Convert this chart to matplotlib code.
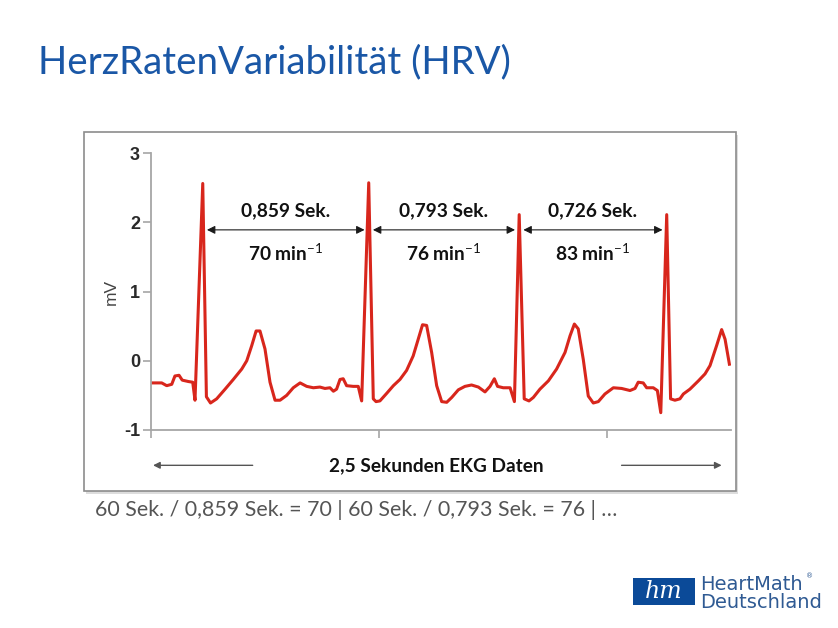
import matplotlib
matplotlib.use("Agg")
import matplotlib.pyplot as plt
from matplotlib.patches import Rectangle

# EKG trace (seconds, mV)
ekg_t = [0.003, 0.047, 0.069, 0.091, 0.105, 0.123, 0.137, 0.164, 0.183, 0.193,
         0.227, 0.243, 0.261, 0.288, 0.325, 0.361, 0.398, 0.420, 0.442, 0.461,
         0.478, 0.500, 0.522, 0.544, 0.566, 0.595, 0.624, 0.654, 0.683, 0.712,
         0.741, 0.763, 0.785, 0.800, 0.814, 0.829, 0.843, 0.858, 0.887, 0.909,
         0.924, 0.955, 0.975, 0.987, 1.004, 1.034, 1.063, 1.092, 1.121, 1.150,
         1.172, 1.191, 1.209, 1.231, 1.253, 1.275, 1.297, 1.319, 1.348, 1.377,
         1.406, 1.436, 1.465, 1.487, 1.506, 1.520, 1.545, 1.575, 1.594, 1.615,
         1.637, 1.658, 1.677, 1.706, 1.743, 1.779, 1.816, 1.838, 1.857, 1.874,
         1.896, 1.918, 1.940, 1.962, 1.991, 2.028, 2.064, 2.101, 2.123, 2.137,
         2.159, 2.174, 2.203, 2.221, 2.236, 2.262, 2.279, 2.298, 2.320, 2.335,
         2.364, 2.401, 2.430, 2.452, 2.481, 2.503, 2.518, 2.537]
ekg_mv = [-0.32, -0.32, -0.36, -0.34, -0.22, -0.21, -0.28, -0.30, -0.31, -0.57,
          2.56, -0.52, -0.61, -0.55, -0.41, -0.27, -0.12, 0.00, 0.22, 0.43,
          0.43, 0.17, -0.31, -0.57, -0.57, -0.50, -0.39, -0.32, -0.37, -0.39,
          -0.38, -0.40, -0.39, -0.44, -0.41, -0.27, -0.26, -0.36, -0.37, -0.37,
          -0.58, 2.57, -0.55, -0.59, -0.58, -0.47, -0.36, -0.27, -0.14, 0.07,
          0.31, 0.52, 0.51, 0.12, -0.36, -0.59, -0.60, -0.53, -0.42, -0.37,
          -0.35, -0.38, -0.45, -0.37, -0.26, -0.37, -0.39, -0.39, -0.59, 2.11,
          -0.55, -0.58, -0.53, -0.41, -0.29, -0.12, 0.12, 0.36, 0.53, 0.46,
          0.02, -0.51, -0.61, -0.59, -0.48, -0.39, -0.40, -0.43, -0.40, -0.31,
          -0.32, -0.39, -0.39, -0.43, -0.75, 2.11, -0.55, -0.57, -0.55, -0.48,
          -0.41, -0.29, -0.19, -0.07, 0.22, 0.45, 0.31, -0.05]

r_peaks = [0.227, 0.955, 1.615, 2.262]
rr_labels = ["0,859 Sek.", "0,793 Sek.", "0,726 Sek."]
bpm_labels = ["70", "76", "83"]
y_ticks = [-1, 0, 1, 2, 3]
x_ticks = [0, 1, 2]

plt.rcParams["mathtext.fontset"] = "custom"
plt.rcParams["mathtext.rm"] = "Lato"
plt.rcParams["mathtext.bf"] = "Lato:bold"

fig = plt.figure(figsize=(8.38, 6.28), dpi=100)
W, H = 838, 628

# frame with a light shadow (behind the axes)
fig.patches.append(Rectangle((86 / W, 1 - 494 / H), 652 / W, 359 / H,
                             transform=fig.transFigure, facecolor="#dddddd",
                             edgecolor="none", zorder=-2))
fig.patches.append(Rectangle((84 / W, 1 - 491 / H), 652 / W, 359 / H,
                             transform=fig.transFigure, facecolor="white",
                             edgecolor="#8c8c8c", lw=1.2, zorder=-1))

ax = fig.add_axes([151 / W, 1 - 430 / H, 580 / W, 277 / H])
ax.patch.set_alpha(0)
ax.plot(ekg_t, ekg_mv, color="#d8261c", lw=2.2, solid_joinstyle="round")
ax.set_xlim(0, 2.544)
ax.set_ylim(-1, 3)
for s in ["top", "right"]:
    ax.spines[s].set_visible(False)
for s in ["left", "bottom"]:
    ax.spines[s].set_color("#a6a6a6")
    ax.spines[s].set_linewidth(1.3)
ax.set_xticks(x_ticks)
ax.set_xticklabels([])
ax.set_yticks(y_ticks)
ax.set_yticklabels([str(v) for v in y_ticks], fontfamily="Liberation Sans",
                   fontweight="bold", fontsize=13, color="#2a2a2a")
ax.tick_params(axis="both", color="#a6a6a6", width=1.2, length=6, pad=2)
ax.text(-0.068, 0.5, "mV", transform=ax.transAxes, rotation=90, ha="center",
        va="center", fontsize=12.5, color="#444444", fontfamily="Liberation Sans")

# RR interval arrows and labels
for i in range(3):
    a, b = r_peaks[i], r_peaks[i + 1]
    ax.annotate("", xy=(b, 1.89), xytext=(a, 1.89),
                arrowprops=dict(arrowstyle="<|-|>", color="#1a1a1a", lw=0.8,
                                mutation_scale=12, shrinkA=3, shrinkB=3))
    mid = (a + b) / 2
    ax.text(mid, 2.16, rr_labels[i], ha="center", va="center",
            fontfamily="Lato", fontweight="bold", fontsize=13.8, color="#111111")
    ax.text(mid, 1.56, bpm_labels[i] + r" min$^{-1}$", ha="center", va="center",
            fontfamily="Lato", fontweight="bold", fontsize=13.8, color="#111111")

# 2.5 second span
ax.text(1.25, -1.51, "2,5 Sekunden EKG Daten", ha="center", va="center",
        fontfamily="Lato", fontweight="bold", fontsize=13.7, color="#111111")
ax.annotate("", xy=(0.009, -1.51), xytext=(0.446, -1.51), annotation_clip=False,
            arrowprops=dict(arrowstyle="-|>", color="#555555", lw=1.0,
                            mutation_scale=10, shrinkA=0, shrinkB=0))
ax.annotate("", xy=(2.503, -1.51), xytext=(2.064, -1.51), annotation_clip=False,
            arrowprops=dict(arrowstyle="-|>", color="#555555", lw=1.0,
                            mutation_scale=10, shrinkA=0, shrinkB=0))

# slide texts
fig.text(38 / W, 1 - 62 / H, "HerzRatenVariabilität (HRV)", ha="left",
         va="center", fontfamily="Lato", fontsize=27.6, color="#1a57a6")
fig.text(95 / W, 1 - 510 / H,
         "60 Sek. / 0,859 Sek. = 70 | 60 Sek. / 0,793 Sek. = 76 | \u2026",
         ha="left", va="center", fontfamily="Lato", fontsize=15.4,
         color="#555555")

# logo
fig.patches.append(Rectangle((633 / W, 1 - 605 / H), 62 / W, 27 / H,
                             transform=fig.transFigure, facecolor="#0b4a98",
                             edgecolor="none"))
fig.text(664 / W, 1 - 592 / H, "hm", ha="center", va="center",
         fontfamily="DejaVu Serif", style="italic", fontsize=17, color="white")
fig.text(700 / W, 1 - 585 / H, "HeartMath", ha="left", va="center",
         fontfamily="DejaVu Sans", fontsize=14, color="#2f5a93")
fig.text(806 / W, 1 - 576 / H, "\u00ae", ha="left", va="center",
         fontfamily="DejaVu Sans", fontsize=5, color="#2f5a93")
fig.text(700 / W, 1 - 603 / H, "Deutschland", ha="left", va="center",
         fontfamily="DejaVu Sans", fontsize=14, color="#2f5a93")

fig.savefig("out.png", dpi=100)
